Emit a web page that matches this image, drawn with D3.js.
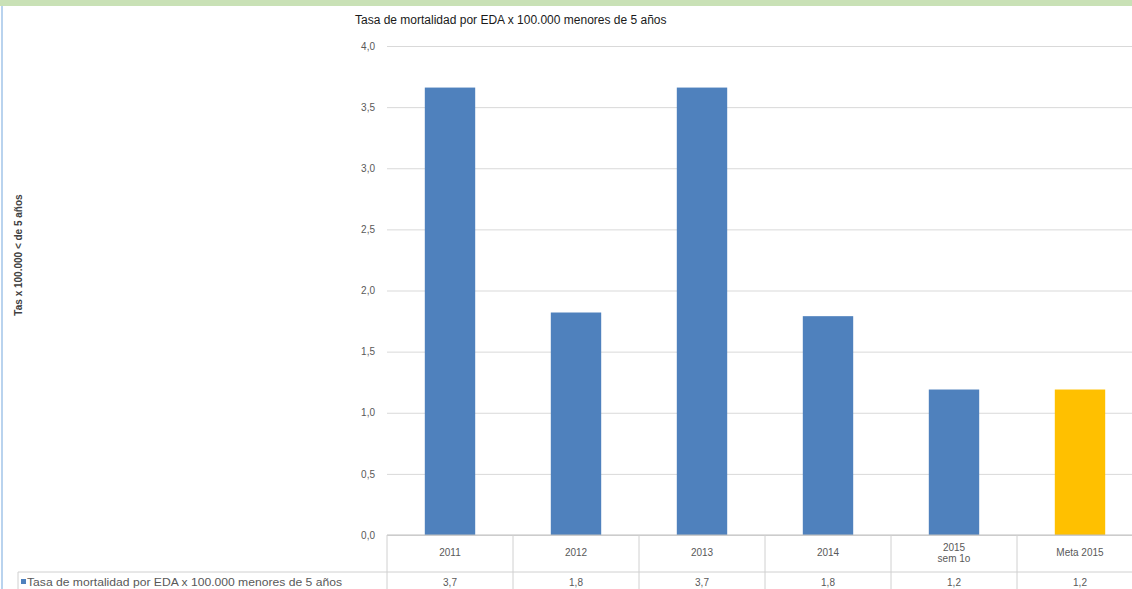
<!DOCTYPE html>
<html><head><meta charset="utf-8">
<script src="https://cdn.jsdelivr.net/npm/d3@7"></script>
<style>body{margin:0;background:#fff;overflow:hidden}svg{display:block;font-family:Arial,"Liberation Sans",sans-serif}</style>
</head><body>
<svg id="c" width="1132" height="589"></svg>
<script>
const categories = ["2011","2012","2013","2014","2015\nsem 1o","Meta 2015"];
const values = [3.66, 1.82, 3.66, 1.79, 1.19, 1.19];
const tableLabels = ["3,7","1,8","3,7","1,8","1,2","1,2"];
const barColors = ["#4f81bd","#4f81bd","#4f81bd","#4f81bd","#4f81bd","#ffc000"];
const yTicks = [0,0.5,1,1.5,2,2.5,3,3.5,4];
const title = "Tasa de mortalidad por EDA x 100.000 menores de 5 años";
const yTitle = "Tas x 100.000 < de 5 años";
const seriesName = "Tasa de mortalidad por EDA x 100.000 menores de 5 años";

const svg = d3.select("#c");
const pLeft = 387, pRight = 1143, pTop = 46, pBottom = 535;
const rowMid = 572, rowEnd = 600;

// page decoration
svg.append("rect").attr("x",0).attr("y",0).attr("width",1132).attr("height",6).attr("fill","#c9e1b6");
svg.append("rect").attr("x",1).attr("y",6).attr("width",2).attr("height",583).attr("fill","#b9d3ee");

const x = d3.scaleBand().domain(categories).range([pLeft,pRight]).padding(0);
const y = d3.scaleLinear().domain([0,4]).range([pBottom,pTop]);

// gridlines
const yAxis = d3.axisLeft(y).tickValues(yTicks).tickSize(-(pRight-pLeft)).tickPadding(12)
  .tickFormat(d => d3.format(".1f")(d).replace(".",","));
const ga = svg.append("g").attr("transform",`translate(${pLeft},0)`).call(yAxis);
ga.select(".domain").remove();
ga.selectAll(".tick line").attr("stroke","#d9d9d9");
ga.selectAll(".tick text").attr("fill","#595959").attr("font-size",10);

// bars
const bw = x.bandwidth()*0.4;
svg.selectAll("rect.bar").data(values).enter().append("rect").attr("class","bar")
  .attr("x",(d,i)=>x(categories[i])+x.bandwidth()/2-bw/2)
  .attr("y",d=>y(d)).attr("width",bw).attr("height",d=>y(0)-y(d))
  .attr("fill",(d,i)=>barColors[i]);

// table
const tc = "#d0d0d0";
svg.append("line").attr("x1",pLeft).attr("x2",pRight).attr("y1",pBottom).attr("y2",pBottom).attr("stroke","#bfbfbf");
svg.append("line").attr("x1",18).attr("x2",pRight).attr("y1",rowMid).attr("y2",rowMid).attr("stroke",tc);
svg.append("line").attr("x1",18).attr("x2",18).attr("y1",rowMid).attr("y2",rowEnd).attr("stroke",tc);
categories.forEach((c,i)=>{
  svg.append("line").attr("x1",x(c)).attr("x2",x(c)).attr("y1",pBottom).attr("y2",rowEnd).attr("stroke",tc);
  const lines = c.split("\n");
  const t = svg.append("text").attr("x",x(c)+x.bandwidth()/2).attr("text-anchor","middle")
    .attr("font-size",10).attr("fill","#595959");
  lines.forEach((l,j)=>{
    t.append("tspan").attr("x",x(c)+x.bandwidth()/2)
     .attr("y",556 + (j - (lines.length-1)/2)*11).text(l);
  });
  svg.append("text").attr("x",x(c)+x.bandwidth()/2).attr("y",586).attr("text-anchor","middle")
    .attr("font-size",10).attr("fill","#595959").text(tableLabels[i]);
});
// legend key in table
svg.append("rect").attr("x",21).attr("y",579).attr("width",5).attr("height",5).attr("fill","#4f81bd");
svg.append("text").attr("x",27).attr("y",586).attr("font-size",10).attr("fill","#595959")
  .attr("textLength",315).attr("lengthAdjust","spacingAndGlyphs").text(seriesName);

// title
svg.append("text").attr("x",355).attr("y",24).attr("font-size",12).attr("fill","#1a1a1a").text(title);
// y title
svg.append("text").attr("transform","translate(22,255) rotate(-90)").attr("text-anchor","middle")
  .attr("font-size",10).attr("font-weight","bold").attr("fill","#404040").text(yTitle);
</script>
</body></html>
